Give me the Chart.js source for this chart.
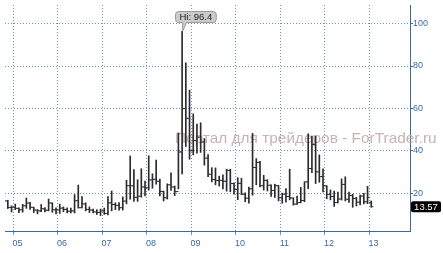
<!DOCTYPE html>
<html><head><meta charset="utf-8">
<script src="https://cdn.jsdelivr.net/npm/chart.js@4/dist/chart.umd.min.js"></script>
<style>html,body{margin:0;padding:0;background:#fff;overflow:hidden}#wrap{width:443px;height:253px}</style>
</head><body><div id="wrap"><canvas id="c" width="443" height="253"></canvas></div>
<script>
// Monthly bars (YYYY-MM)
const months = [
 '2004-10','2004-11','2004-12',
 '2005-01','2005-02','2005-03','2005-04','2005-05','2005-06','2005-07','2005-08','2005-09','2005-10','2005-11','2005-12',
 '2006-01','2006-02','2006-03','2006-04','2006-05','2006-06','2006-07','2006-08','2006-09','2006-10','2006-11','2006-12',
 '2007-01','2007-02','2007-03','2007-04','2007-05','2007-06','2007-07','2007-08','2007-09','2007-10','2007-11','2007-12',
 '2008-01','2008-02','2008-03','2008-04','2008-05','2008-06','2008-07','2008-08','2008-09','2008-10','2008-11','2008-12',
 '2009-01','2009-02','2009-03','2009-04','2009-05','2009-06','2009-07','2009-08','2009-09','2009-10','2009-11','2009-12',
 '2010-01','2010-02','2010-03','2010-04','2010-05','2010-06','2010-07','2010-08','2010-09','2010-10','2010-11','2010-12',
 '2011-01','2011-02','2011-03','2011-04','2011-05','2011-06','2011-07','2011-08','2011-09','2011-10','2011-11','2011-12',
 '2012-01','2012-02','2012-03','2012-04','2012-05','2012-06','2012-07','2012-08','2012-09','2012-10','2012-11','2012-12',
 '2013-01'
];
const opens = [
 13.3,16.3,13.2,
 13.3,12.8,12.1,14.0,15.3,13.3,12.0,11.6,12.6,11.9,15.3,12.1,
 12.1,12.9,12.3,11.4,11.6,16.4,13.1,14.9,12.3,12.0,11.1,10.9,
 11.6,10.4,15.4,14.6,14.2,13.1,16.2,23.5,23.4,18.0,18.5,22.9,
 22.5,26.2,26.5,25.6,20.8,17.8,23.9,22.9,20.7,39.4,59.9,55.3,
 40.0,44.8,46.4,44.1,36.5,28.9,26.4,25.9,26.0,25.6,30.7,24.5,
 21.7,24.6,19.5,17.6,22.0,32.1,34.5,23.5,26.0,23.7,21.2,23.5,
 17.8,19.5,18.4,17.7,14.8,15.5,16.5,25.3,31.6,43.0,30.0,27.8,
 23.4,19.4,18.4,15.5,17.2,24.1,17.1,18.9,17.5,15.7,18.6,15.9,
 15.5
];
const highs = [
 17.2,16.6,14.0,
 14.8,13.0,14.7,17.7,15.6,13.3,12.2,14.6,13.2,17.2,15.4,13.0,
 14.8,13.5,13.0,12.9,19.3,23.8,18.3,15.4,13.5,12.4,12.2,12.5,
 12.9,18.3,21.0,15.4,15.5,18.2,26.1,37.5,31.1,26.3,31.5,25.7,
 37.6,29.1,35.6,26.6,20.9,24.4,29.6,23.3,48.4,96.4,81.5,68.6,
 57.4,52.6,53.2,45.7,38.2,32.0,31.9,28.0,28.6,31.3,31.3,24.9,
 27.3,27.0,20.1,22.8,48.2,36.3,35.0,28.4,26.3,23.9,24.2,23.5,
 20.0,22.1,31.3,17.8,18.6,22.7,25.3,48.0,46.9,46.9,38.0,31.4,
 23.5,21.5,20.9,20.5,26.7,27.7,20.5,19.5,18.0,19.0,19.9,23.2,
 16.3
];
const lows = [
 13.0,12.7,11.1,
 12.2,10.7,11.0,12.8,12.3,10.8,10.2,11.2,11.1,11.6,10.9,10.2,
 10.4,11.2,10.6,10.6,10.6,12.9,13.0,11.6,10.8,10.6,9.9,9.4,
 9.9,9.7,11.6,12.2,11.9,12.0,14.9,17.1,16.1,16.1,18.1,18.7,
 21.4,22.3,24.2,18.7,16.3,17.2,21.2,18.8,22.0,29.0,42.0,36.0,
 38.1,38.9,39.2,33.2,27.7,25.3,23.9,23.3,22.0,20.9,20.6,19.5,
 16.9,19.2,15.9,15.2,19.0,23.9,22.9,21.4,21.0,18.4,17.9,16.3,
 15.2,15.7,16.8,14.3,14.6,15.4,15.9,22.1,29.6,24.5,25.1,20.5,
 17.3,16.8,13.7,15.3,16.7,16.3,15.6,13.3,13.9,14.4,14.9,15.0,
 13.3
];
const closes = [
 16.3,13.2,13.3,
 12.8,12.1,14.0,15.3,13.3,12.0,11.6,12.6,11.9,15.3,12.1,12.1,
 12.9,12.3,11.4,11.6,16.4,13.1,14.9,12.3,12.0,11.1,10.9,11.6,
 10.4,15.4,14.6,14.2,13.1,16.2,23.5,23.4,18.0,18.5,22.9,22.5,
 26.2,26.5,25.6,20.8,17.8,23.9,22.9,20.7,39.4,59.9,55.3,40.0,
 44.8,46.4,44.1,36.5,28.9,26.4,25.9,26.0,25.6,30.7,24.5,21.7,
 24.6,19.5,17.6,22.0,32.1,34.5,23.5,26.0,23.7,21.2,23.5,17.8,
 19.5,18.4,17.7,14.8,15.5,16.5,25.3,31.6,43.0,30.0,27.8,23.4,
 19.4,18.4,15.5,17.2,24.1,17.1,18.9,17.5,15.7,18.6,15.9,18.0,
 13.57
];
const yearLabels = ['05','06','07','08','09','10','11','12','13'];
const yTicks = [20,40,60,80,100];
const watermark = 'Портал для трейдеров - ForTrader.ru';

const BASE_YEAR = 2005;
const monthPos = months.map(s => { const p = s.split('-').map(Number); return (p[0]-BASE_YEAR)*12 + p[1]-1 + 0.5; });
const yearPos = yearLabels.map((l,i) => i*12);
const TICK_OFF = 0.27;
const BAR = '#2b2b2b';
const AXIS = '#3a6aa3';
const GRID = '#6c94c6';
const FONT = '"Liberation Sans", Arial, sans-serif';

function rrect(ctx,x,y,w,h,r){ctx.beginPath();ctx.moveTo(x+r,y);ctx.lineTo(x+w-r,y);ctx.quadraticCurveTo(x+w,y,x+w,y+r);ctx.lineTo(x+w,y+h-r);ctx.quadraticCurveTo(x+w,y+h,x+w-r,y+h);ctx.lineTo(x+r,y+h);ctx.quadraticCurveTo(x,y+h,x,y+h-r);ctx.lineTo(x,y+r);ctx.quadraticCurveTo(x,y,x+r,y);ctx.closePath();}

const overlay = {
  id:'overlay',
  beforeDatasetsDraw(chart){
    const ctx = chart.ctx, ys = chart.scales.y;
    ctx.save();
    let fs = 14;
    ctx.font = fs+'px '+FONT;
    const w = ctx.measureText(watermark).width;
    fs = fs*262/w;
    ctx.font = fs+'px '+FONT;
    ctx.fillStyle = '#c6b3b3';
    ctx.textBaseline = 'middle';
    ctx.textAlign = 'left';
    ctx.fillText(watermark, 175, ys.getPixelForValue(45.6));
    ctx.restore();
  },
  afterDraw(chart){
    const ctx = chart.ctx, xs = chart.scales.x, ys = chart.scales.y;
    ctx.save();
    // Hi callout
    let hi = -Infinity, hiI = 0;
    highs.forEach((v,i)=>{ if(v>hi){hi=v;hiI=i;} });
    const px = xs.getPixelForValue(monthPos[hiI]), py = ys.getPixelForValue(hi);
    const txt = 'Hi: '+hi;
    ctx.font = '9.5px '+FONT;
    const tw = ctx.measureText(txt).width;
    const bw = tw+8, bh = 11, bx = Math.round(px)-7, by = Math.round(py)-20;
    ctx.fillStyle = '#cbcbcb'; ctx.strokeStyle = '#9a9a9a'; ctx.lineWidth = 1;
    rrect(ctx,bx+0.5,by+0.5,bw,bh,3);
    ctx.fill(); ctx.stroke();
    ctx.beginPath();
    ctx.moveTo(px+0.5, by+bh); ctx.lineTo(px+0.5, py); ctx.lineTo(px+4.5, by+bh);
    ctx.closePath(); ctx.fill();
    ctx.beginPath(); ctx.moveTo(px+0.5,by+bh+0.5); ctx.lineTo(px+0.5,py); ctx.lineTo(px+4.5,by+bh+0.5); ctx.stroke();
    ctx.fillStyle = '#222'; ctx.textBaseline='middle'; ctx.textAlign='left';
    ctx.fillText(txt, bx+4.5, by+bh/2+1);
    // last price label
    const last = closes[closes.length-1];
    const ly = ys.getPixelForValue(last);
    ctx.fillStyle = '#000';
    rrect(ctx, 411, ly-5.5, 30, 11, 2); ctx.fill();
    ctx.fillStyle = '#fff'; ctx.font = '9.5px '+FONT; ctx.textAlign='center';
    ctx.fillText(last.toFixed(2), 426, ly+0.5);
    ctx.restore();
  }
};

new Chart(document.getElementById('c'), {
  type:'bar',
  data:{ datasets:[
    { type:'bar', data: monthPos.map((x,i)=>({x, y:[lows[i], highs[i]]})), backgroundColor:BAR, borderWidth:0, barThickness:1 },
    { type:'scatter', data: monthPos.map((x,i)=>({x:x-TICK_OFF, y:opens[i]})), pointStyle:'line', radius:1.1, borderColor:BAR, borderWidth:1, showLine:false },
    { type:'scatter', data: monthPos.map((x,i)=>({x:x+TICK_OFF, y:closes[i]})), pointStyle:'line', radius:1.1, borderColor:BAR, borderWidth:1, showLine:false }
  ]},
  options:{
    responsive:false, animation:false, events:[],
    layout:{padding:0},
    plugins:{legend:{display:false}, tooltip:{enabled:false}},
    scales:{
      x:{
        type:'linear', min:-2.26, max:106.95, offset:false,
        grid:{offset:false, color:GRID, drawTicks:true, tickLength:4, tickColor:GRID},
        border:{display:true, color:AXIS, width:1, dash:[1,2]},
        ticks:{color:AXIS, font:{size:9, family:FONT}, padding:3, labelOffset:4, maxRotation:0, autoSkip:false,
          callback:(v)=>{ const i = yearPos.indexOf(v); return i>=0 ? yearLabels[i] : ''; }},
        afterBuildTicks:(s)=>{ s.ticks = yearPos.map(v=>({value:v})); },
        afterFit:(s)=>{ s.height = 22; s.paddingLeft = 0; s.paddingRight = 0; }
      },
      y:{
        type:'linear', position:'right', min:2.1, max:108.8,
        grid:{offset:false, color:GRID, drawTicks:true, tickLength:3, tickColor:AXIS},
        border:{display:true, color:AXIS, width:1, dash:[1,2]},
        ticks:{color:AXIS, font:{size:9, family:FONT}, padding:0, autoSkip:false},
        afterBuildTicks:(s)=>{ s.ticks = yTicks.map(v=>({value:v})); },
        afterFit:(s)=>{ s.width = 33; s.paddingTop = 0; s.paddingBottom = 0; }
      }
    }
  },
  plugins:[overlay]
});
</script>
</body></html>
